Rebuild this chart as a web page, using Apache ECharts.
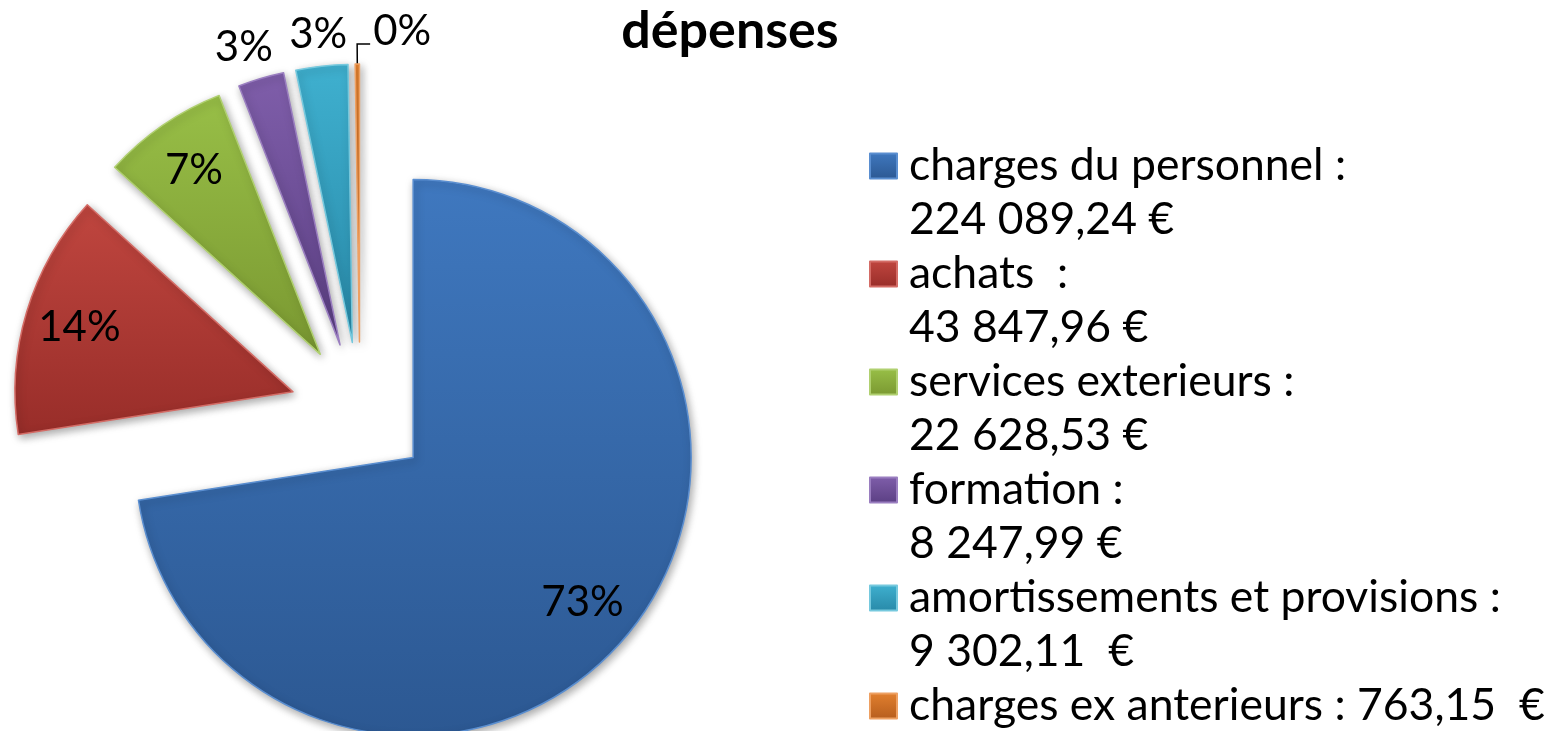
<!DOCTYPE html>
<html>
<head>
<meta charset="utf-8">
<script src="https://cdn.jsdelivr.net/npm/echarts@6/dist/echarts.min.js"></script>
<style>
  html, body { margin: 0; padding: 0; background: #fff; }
  #chart { width: 1553px; height: 731px; }
</style>
</head>
<body>
<div id="chart"></div>
<script>
// données du graphique
const categories = ['charges du personnel', 'achats', 'services exterieurs', 'formation', 'amortissements et provisions', 'charges ex anterieurs'];
const values = [224089.24, 43847.96, 22628.53, 8247.99, 9302.11, 763.15];
const legendLabels = [
  'charges du personnel :\n224 089,24 €',
  'achats  :\n43 847,96 €',
  'services exterieurs :\n22 628,53 €',
  'formation :\n8 247,99 €',
  'amortissements et provisions :\n9 302,11  €',
  'charges ex anterieurs : 763,15  €'
];
const insideLabel = [true, true, true, false, false, false];

const topColors = ['#3f78bf', '#c0463f', '#98bf47', '#7f5eaa', '#3fb0cf', '#e2802f'];
const bottomColors = ['#2c5892', '#982d29', '#7a9831', '#5b3f83', '#2889a8', '#b65d1d'];
const rimColors = ['#5a8ed0', '#d46c66', '#b0d070', '#9a7ec0', '#76c9de', '#eea062'];

const font = 'Lato, "Open Sans", sans-serif';

const chart = echarts.init(document.getElementById('chart'));

function fill(i) {
  return new echarts.graphic.LinearGradient(0, 0, 0, 1, [
    { offset: 0, color: topColors[i] },
    { offset: 1, color: bottomColors[i] }
  ]);
}

const pieData = values.map((v, i) => ({
  name: categories[i],
  value: v,
  selected: true,
  itemStyle: { color: fill(i), borderColor: rimColors[i] },
  label: { show: !insideLabel[i] },
  labelLine: { show: i === 5, length: i === 5 ? 20 : 32, length2: i === 5 ? 13 : 0 }
}));

const labelData = values.map((v, i) => ({
  name: categories[i],
  value: v,
  selected: true,
  label: { show: insideLabel[i] }
}));

const option = {
  animation: false,
  title: {
    text: 'dépenses',
    left: 725,
    top: 0,
    textAlign: 'center',
    textStyle: { fontFamily: font, fontWeight: 'bold', fontSize: 52, color: '#000' }
  },
  legend: {
    orient: 'vertical',
    left: 864,
    top: 80,
    height: 900,
    icon: 'rect',
    itemWidth: 27,
    itemHeight: 25,
    itemGap: -54,
    selectedMode: false,
    data: categories,
    formatter: function (name) {
      const i = categories.indexOf(name);
      const txt = legendLabels[i];
      return '\n' + txt + (txt.indexOf('\n') < 0 ? '\n' : '');
    },
    textStyle: { fontFamily: font, fontSize: 44.5, lineHeight: 54, color: '#000', padding: [0, 0, 0, 7] }
  },
  series: [
    {
      type: 'pie',
      center: [360, 412],
      radius: 278,
      startAngle: 90,
      clockwise: true,
      selectedMode: 'multiple',
      selectedOffset: 70,
      percentPrecision: 0,
      avoidLabelOverlap: false,
      emphasis: { disabled: true },
      itemStyle: {
        borderWidth: 1.5,
        shadowBlur: 8,
        shadowColor: 'rgba(0,0,0,0.35)',
        shadowOffsetX: 2,
        shadowOffsetY: 3
      },
      label: {
        position: 'outside',
        formatter: '{d}%',
        fontFamily: font,
        fontSize: 42,
        color: '#000',
        distanceToLabelLine: 5
      },
      labelLine: { lineStyle: { color: '#000', width: 1.5 }, smooth: false },
      labelLayout: function (p) {
        const i = p.dataIndex;
        if (insideLabel[i]) return {};
        const w = p.labelRect.width;
        if (i === 5) {
          const pts = p.labelLinePoints;
          if (!pts) return {};
          const a = pts[0], b = pts[1];
          return {
            dx: 13 + 13 + 5 + 3 + w,
            dy: -13,
            labelLinePoints: [a, b, [b[0] + 13, b[1]]]
          };
        }
        // centre the small labels on the radial direction
        return { dx: 5 + w / 2 - (i === 3 ? 8 : 0) };
      },
      data: pieData
    },
    {
      type: 'pie',
      center: [360, 412],
      radius: 440,
      startAngle: 90,
      clockwise: true,
      selectedMode: 'multiple',
      selectedOffset: 70,
      percentPrecision: 0,
      silent: true,
      legendHoverLink: false,
      emphasis: { disabled: true },
      itemStyle: { color: 'rgba(0,0,0,0)', borderWidth: 0 },
      select: { itemStyle: { color: 'rgba(0,0,0,0)', borderWidth: 0 } },
      labelLine: { show: false },
      label: {
        position: 'inside',
        formatter: '{d}%',
        fontFamily: font,
        fontSize: 42,
        color: '#000'
      },
      data: labelData
    }
  ]
};

chart.setOption(option);
</script>
</body>
</html>
